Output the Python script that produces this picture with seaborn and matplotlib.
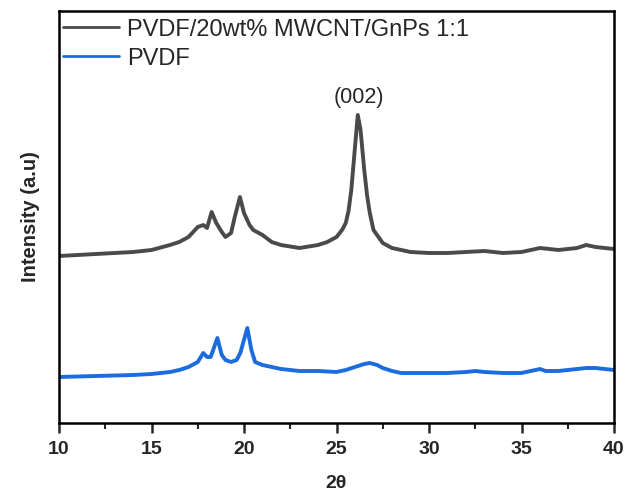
import matplotlib
matplotlib.use("Agg")
import matplotlib.pyplot as plt
from matplotlib.ticker import MultipleLocator, NullLocator
import seaborn as sns
import pandas as pd

# 2θ positions and intensities (a.u., composite pattern shifted up for clarity)
two_theta_composite = [10, 11, 12, 13, 14, 15, 16, 16.5, 17, 17.5, 17.8, 18.0, 18.25,
                       18.5, 18.8, 19.0, 19.3, 19.5, 19.78, 20.0, 20.3, 20.5, 21, 21.5,
                       22, 23, 24, 24.5, 25, 25.3, 25.5, 25.65, 25.8, 26.0, 26.15, 26.3,
                       26.5, 26.65, 26.8, 27, 27.5, 28, 29, 30, 31, 32, 33, 34, 35, 36,
                       37, 38, 38.5, 39, 40]
intensity_composite = [167, 168, 169, 170, 171, 173, 178, 181, 186, 196, 198, 195, 211,
                       200, 191, 186, 190, 206, 226, 210, 198, 193, 188, 181,
                       178, 175, 178, 181, 186, 193, 200, 212, 233, 276, 308, 293,
                       253, 228, 210, 193, 180, 175, 171, 170, 170, 171, 172, 170, 171, 175,
                       173, 175, 178, 176, 174]

two_theta_pvdf = [10, 12, 14, 15, 16, 16.5, 17, 17.5, 17.8, 18.0, 18.2, 18.56, 18.8, 19.0,
                  19.3, 19.6, 19.8, 20.18, 20.4, 20.6, 21, 21.5, 22, 23, 24, 25, 25.5, 26,
                  26.5, 26.8, 27.2, 27.5, 28, 28.5, 29, 30, 31, 32, 32.5, 33, 34, 35, 35.5,
                  36, 36.3, 37, 38, 38.5, 39, 39.5, 40]
intensity_pvdf = [46, 47, 48, 49, 51, 53, 56, 61, 70, 66, 66, 85, 68, 63,
                  61, 63, 70, 95, 73, 61, 58, 56, 54, 52, 52, 51, 53, 56,
                  59, 60, 58, 55, 52, 50, 50, 50, 50, 51, 52, 51, 50, 50, 52,
                  54, 52, 52, 54, 55, 55, 54, 53]

label_composite = "PVDF/20wt% MWCNT/GnPs 1:1"
label_pvdf = "PVDF"
peak_label = "(002)"
peak_position = 26.15
x_ticks = [10, 15, 20, 25, 30, 35, 40]

sns.set_style("white")
plt.rcParams["font.family"] = ["Liberation Sans", "DejaVu Sans"]

fig = plt.figure(figsize=(6.27, 4.92), dpi=100)
ax = fig.add_axes([59 / 627, 69 / 492, 555 / 627, 412 / 492])

df_c = pd.DataFrame({"two_theta": two_theta_composite, "intensity": intensity_composite})
df_p = pd.DataFrame({"two_theta": two_theta_pvdf, "intensity": intensity_pvdf})

sns.lineplot(data=df_c, x="two_theta", y="intensity", ax=ax, color="#4a4a4a",
             linewidth=2.8, sort=False, estimator=None, label=label_composite)
sns.lineplot(data=df_p, x="two_theta", y="intensity", ax=ax, color="#1c6ce0",
             linewidth=2.8, sort=False, estimator=None, label=label_pvdf)

ax.set_xlim(10, 40)
ax.set_ylim(0, 412)
ax.set_xticks(x_ticks)
ax.set_xticklabels([str(t) for t in x_ticks])
ax.xaxis.set_minor_locator(MultipleLocator(2.5))
ax.yaxis.set_major_locator(NullLocator())

for s in ax.spines.values():
    s.set_linewidth(1.8)
    s.set_color("black")

ax.tick_params(axis="x", which="major", direction="out", length=7, width=1.8,
               bottom=True, top=False, pad=6)
ax.tick_params(axis="x", which="minor", direction="out", length=4, width=1.5,
               bottom=True, top=False)
for lbl in ax.get_xticklabels():
    lbl.set_family(["Liberation Sans Narrow", "Liberation Sans", "DejaVu Sans"])
    lbl.set_fontweight("bold")
    lbl.set_fontsize(14)

ax.set_xlabel("2θ", fontsize=14, fontweight="bold", labelpad=12)
ax.set_ylabel("Intensity (a.u)", fontsize=14.5, fontweight="bold", labelpad=14)

top_val = max(intensity_composite)
ax.annotate(peak_label, xy=(peak_position, top_val), xytext=(1, 5),
            textcoords="offset points", ha="center", va="bottom", fontsize=15.5)

leg = ax.legend(loc="upper left", bbox_to_anchor=(0.0, 0.99), frameon=False,
                fontsize=17, handlelength=2.4, handletextpad=0.35,
                labelspacing=0.3, borderaxespad=0.0, borderpad=0.15)
for line in leg.get_lines():
    line.set_linewidth(2.0)

fig.savefig("out.png", dpi=100)
